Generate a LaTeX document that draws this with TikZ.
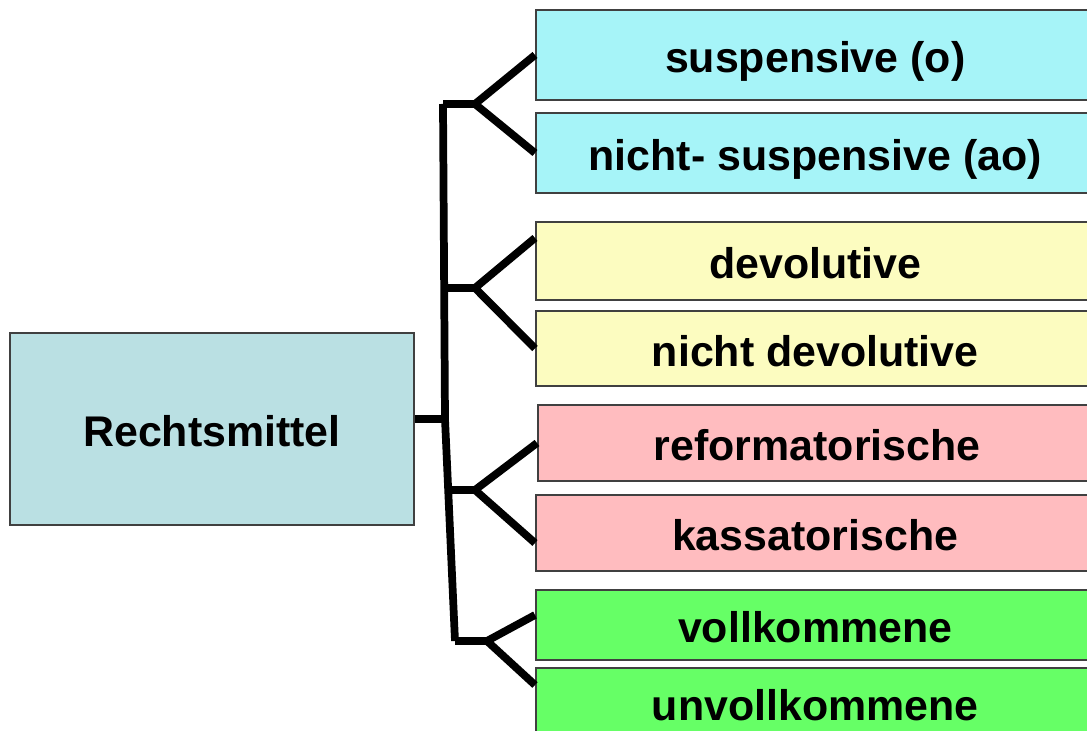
\documentclass[tikz,border=0pt]{standalone}
\usepackage{fontspec}
\setmainfont{Liberation Sans}
\usepackage{tikz}
\usetikzlibrary{calc}

\definecolor{rootcol}{RGB}{186,224,227}
\definecolor{cyancol}{RGB}{166,244,248}
\definecolor{yellcol}{RGB}{252,252,192}
\definecolor{pinkcol}{RGB}{255,188,191}
\definecolor{greencol}{RGB}{102,255,102}

\tikzset{
  typbox/.style={draw=black!75, line width=0.6pt, rectangle, inner sep=0pt,
    text height=10pt, text depth=0pt,
    font=\fontsize{12.2}{14}\selectfont\bfseries},
  leafbox/.style={typbox, anchor=west, minimum width=5.58cm},
  branch/.style={line width=2.2pt, line cap=butt, line join=miter}
}

\begin{document}
\begin{tikzpicture}[x=0.01cm, y=-0.01cm]
  \clip (0,0) rectangle (1087,731);
  \useasboundingbox (0,0) rectangle (1087,731);
  % junction points
  \coordinate (T0) at (443,104);
  \coordinate (T1) at (444,288);
  \coordinate (T2) at (445,419);
  \coordinate (T3) at (450,490);
  \coordinate (T4) at (455,641);
  \coordinate (F1) at (475,104);
  \coordinate (F2) at (475,288);
  \coordinate (F3) at (475,490);
  \coordinate (F4) at (487,641);
  % boxes
  \node[typbox, fill=rootcol, minimum width=4.04cm, minimum height=1.92cm] (root) at (212,429) {Rechtsmittel};
  \node[leafbox, fill=cyancol, minimum height=0.90cm] (susp) at (535,55) {suspensive (o)};
  \node[leafbox, fill=cyancol, minimum height=0.80cm] (nsusp) at (535,153) {nicht- suspensive (ao)};
  \node[leafbox, fill=yellcol, minimum height=0.78cm] (dev) at (535,261) {devolutive};
  \node[leafbox, fill=yellcol, minimum height=0.75cm] (ndev) at (535,348.5) {nicht devolutive};
  \node[leafbox, fill=pinkcol, minimum height=0.76cm] (ref) at (537,443) {reformatorische};
  \node[leafbox, fill=pinkcol, minimum height=0.76cm] (kas) at (535,533) {kassatorische};
  \node[leafbox, fill=greencol, minimum height=0.70cm] (voll) at (535,625) {vollkommene};
  \node[leafbox, fill=greencol, minimum height=0.70cm] (unvoll) at (535,703) {unvollkommene};
  % connectors
  \draw[branch] (root.east |- T2) -- (T2);
  \draw[branch] (T0) -- (T2) -- (T4);
  \draw[branch] (T0) -- (F1);
  \draw[branch] (T1) -- (F2);
  \draw[branch] (T3) -- (F3);
  \draw[branch] (T4) -- (F4);
  \draw[branch] (susp.west) -- (F1) -- (nsusp.west);
  \draw[branch] ($(dev.west)+(0,-23)$) -- (F2) -- (ndev.west);
  \draw[branch] (ref.west) -- (F3) -- ($(kas.west)+(0,10)$);
  \draw[branch] ($(voll.west)+(0,-10)$) -- (F4) -- ($(unvoll.west)+(0,-18)$);
\end{tikzpicture}
\end{document}
